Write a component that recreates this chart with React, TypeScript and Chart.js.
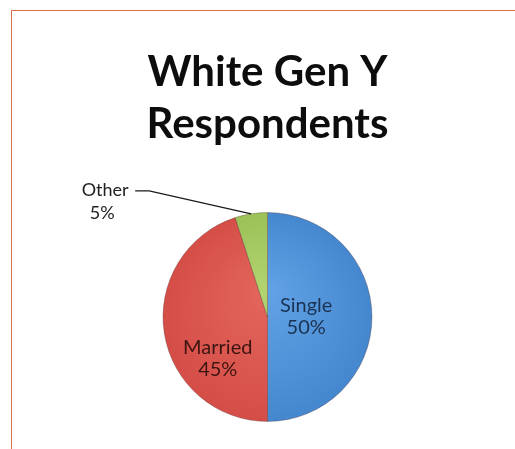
import React, { useEffect, useRef } from 'react';
import { Chart, registerables } from 'chart.js';

Chart.register(...registerables);

// Chart content
const titleLines = ['White Gen Y', 'Respondents'];
const categories = ['Single', 'Married', 'Other'];
const shares = [50, 45, 5];

// Slice styling
const sliceColors = ['#4587CE', '#D44E47', '#9CC158'];
const sliceHighlights = ['#62A3E6', '#E4665D', '#B2D471'];
const labelColors = ['#1B3352', '#3C1411', '#222222'];

// Label placement for the big slices, as fractions of the pie radius from its centre
const insidePlacement: Record<string, { dx: number; dy: number }> = {
  Single: { dx: 0.37, dy: 0.0 },
  Married: { dx: -0.476, dy: 0.395 },
};

const LABEL_FONT = '20px Lato, "Open Sans", sans-serif';
const CALLOUT_FONT = '18px Lato, "Open Sans", sans-serif';

const sliceLabels = {
  id: 'sliceLabels',
  afterDatasetsDraw(chart: any) {
    const ctx: CanvasRenderingContext2D = chart.ctx;
    const meta = chart.getDatasetMeta(0);
    meta.data.forEach((arc: any, i: number) => {
      const { x, y, startAngle, endAngle, outerRadius } = arc.getProps(
        ['x', 'y', 'startAngle', 'endAngle', 'outerRadius'],
        true
      );
      const name = categories[i];
      const pct = `${shares[i]}%`;
      ctx.save();
      ctx.fillStyle = labelColors[i];
      ctx.textAlign = 'center';
      ctx.textBaseline = 'middle';
      const place = insidePlacement[name];
      if (place) {
        const cx = x + place.dx * outerRadius;
        const cy = y + place.dy * outerRadius;
        ctx.font = LABEL_FONT;
        ctx.fillText(name, cx, cy - 11);
        ctx.fillText(pct, cx, cy + 11);
      } else {
        // small slice: callout outside with a leader line to the slice edge
        const mid = (startAngle + endAngle) / 2;
        const ax = x + Math.cos(mid) * outerRadius;
        const ay = y + Math.sin(mid) * outerRadius;
        const ex = ax - 102;
        const ey = ay - 23;
        const lx = ex - 14;
        ctx.strokeStyle = '#1a1a1a';
        ctx.lineWidth = 1.3;
        ctx.beginPath();
        ctx.moveTo(ax, ay);
        ctx.lineTo(ex, ey);
        ctx.lineTo(lx, ey);
        ctx.stroke();
        ctx.font = CALLOUT_FONT;
        const tx = lx - 30;
        ctx.fillText(name, tx, ey - 1);
        ctx.fillText(pct, tx - 3, ey + 22);
      }
      ctx.restore();
    });
  },
};

export default function App() {
  const canvasRef = useRef<HTMLCanvasElement | null>(null);

  useEffect(() => {
    const canvas = canvasRef.current;
    if (!canvas) return;
    const chart = new Chart(canvas, {
      type: 'pie',
      data: {
        labels: categories,
        datasets: [
          {
            data: shares,
            backgroundColor: (c: any) => {
              const i = c.dataIndex;
              const area = c.chart.chartArea;
              if (!area) return sliceColors[i];
              const cx = (area.left + area.right) / 2;
              const cy = (area.top + area.bottom) / 2;
              const r = Math.min(area.right - area.left, area.bottom - area.top) / 2;
              const g = c.chart.ctx.createRadialGradient(cx, cy - r * 0.25, 0, cx, cy, r);
              g.addColorStop(0, sliceHighlights[i]);
              g.addColorStop(1, sliceColors[i]);
              return g;
            },
            borderColor: 'rgba(70,40,40,0.3)',
            borderWidth: 1,
          },
        ],
      },
      options: {
        responsive: false,
        animation: false,
        devicePixelRatio: 1,
        layout: { padding: { left: 20, right: 0, top: 0, bottom: 27 } },
        plugins: {
          legend: { display: false },
          tooltip: { enabled: false },
          title: {
            display: true,
            text: titleLines,
            color: '#0d0d0d',
            font: { family: 'Lato, "Open Sans", sans-serif', size: 42, weight: 'bold', lineHeight: 52 / 42 },
            padding: { top: 46, bottom: 62 },
          },
        },
      },
      plugins: [sliceLabels],
    });
    return () => chart.destroy();
  }, []);

  return (
    <div
      style={{
        position: 'fixed',
        left: 0,
        top: 0,
        width: 515,
        height: 449,
        background: '#ffffff',
        overflow: 'hidden',
      }}
    >
      <canvas ref={canvasRef} width={515} height={449} style={{ position: 'absolute', left: 0, top: 0 }} />
      <div
        style={{
          position: 'absolute',
          left: 11,
          top: 10,
          right: -4,
          bottom: -4,
          borderTop: '1px solid #D8714C',
          borderLeft: '1px solid #D8714C',
          pointerEvents: 'none',
        }}
      />
    </div>
  );
}
